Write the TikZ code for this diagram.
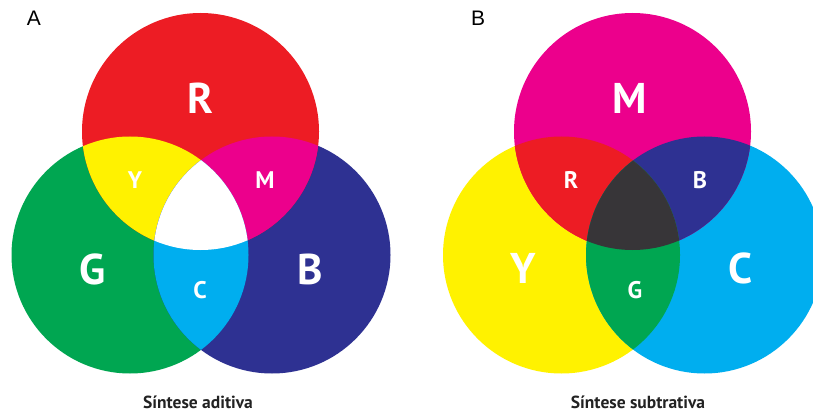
\documentclass[tikz,border=0pt]{standalone}
\usepackage{fontspec}
\setmainfont{PT Sans}
\newfontfamily\panelfont{Liberation Sans}
\definecolor{cR}{HTML}{ED1C24}
\definecolor{cG}{HTML}{00A651}
\definecolor{cB}{HTML}{2E3192}
\definecolor{cY}{HTML}{FFF200}
\definecolor{cM}{HTML}{EC008C}
\definecolor{cC}{HTML}{00AEEF}
\definecolor{cK}{HTML}{373538}
\definecolor{capcol}{HTML}{222222}
\begin{document}
\begin{tikzpicture}[x=1pt,y=-1pt,
  big/.style={text=white,inner sep=0pt,font=\bfseries\fontsize{43}{43}\selectfont},
  small/.style={text=white,inner sep=0pt,font=\bfseries\fontsize{24}{24}\selectfont},
  caption/.style={text=capcol,inner sep=0pt,anchor=base,font=\bfseries\fontsize{17.5}{18}\selectfont},
  panel/.style={text=black,inner sep=0pt,font=\panelfont\fontsize{21}{21}\selectfont}]
\clip (0,0) rectangle (813,414);
\fill[white] (0,0) rectangle (813,414);
\def\rad{118.5pt}
% ---- A: additive ----
\coordinate (aR) at (200.5,131.5);
\coordinate (aG) at (130,255);
\coordinate (aB) at (272,255);
\fill[cG] (aG) circle[radius=\rad];
\fill[cB] (aB) circle[radius=\rad];
\fill[cR] (aR) circle[radius=\rad];
\begin{scope}\clip (aR) circle[radius=\rad]; \fill[cY] (aG) circle[radius=\rad];\end{scope}
\begin{scope}\clip (aR) circle[radius=\rad]; \fill[cM] (aB) circle[radius=\rad];\end{scope}
\begin{scope}\clip (aG) circle[radius=\rad]; \fill[cC] (aB) circle[radius=\rad];\end{scope}
\begin{scope}\clip (aR) circle[radius=\rad]; \clip (aG) circle[radius=\rad]; \fill[white] (aB) circle[radius=\rad];\end{scope}
% ---- B: subtractive ----
\coordinate (bM) at (632.5,131.5);
\coordinate (bY) at (561.5,255);
\coordinate (bC) at (704.5,255);
\fill[cY] (bY) circle[radius=\rad];
\fill[cC] (bC) circle[radius=\rad];
\fill[cM] (bM) circle[radius=\rad];
\begin{scope}\clip (bM) circle[radius=\rad]; \fill[cR] (bY) circle[radius=\rad];\end{scope}
\begin{scope}\clip (bM) circle[radius=\rad]; \fill[cB] (bC) circle[radius=\rad];\end{scope}
\begin{scope}\clip (bY) circle[radius=\rad]; \fill[cG] (bC) circle[radius=\rad];\end{scope}
\begin{scope}\clip (bM) circle[radius=\rad]; \clip (bY) circle[radius=\rad]; \fill[cK] (bC) circle[radius=\rad];\end{scope}
% ---- labels ----
\node[panel] (pA) at (34,18) {A};
\node[panel] (pB) at (478,18) {B};
\node[big] (lR) at (200,98) {R};
\node[small] (lY) at (135,180) {Y};
\node[small] (lM) at (265,180) {M};
\node[big] (lG) at (93,269) {G};
\node[big] (lB) at (310,269) {B};
\node[small] (lC) at (200,290) {C};
\node[big] (mM) at (630,98) {M};
\node[small] (mR) at (571,180) {R};
\node[small] (mB) at (700,180) {B};
\node[big] (mY) at (523,268) {Y};
\node[big] (mC) at (741,268) {C};
\node[small] (mG) at (635,290) {G};
\node[caption] (capA) at (198,408) {Síntese aditiva};
\node[caption] (capB) at (638,408) {Síntese subtrativa};
\end{tikzpicture}
\end{document}
